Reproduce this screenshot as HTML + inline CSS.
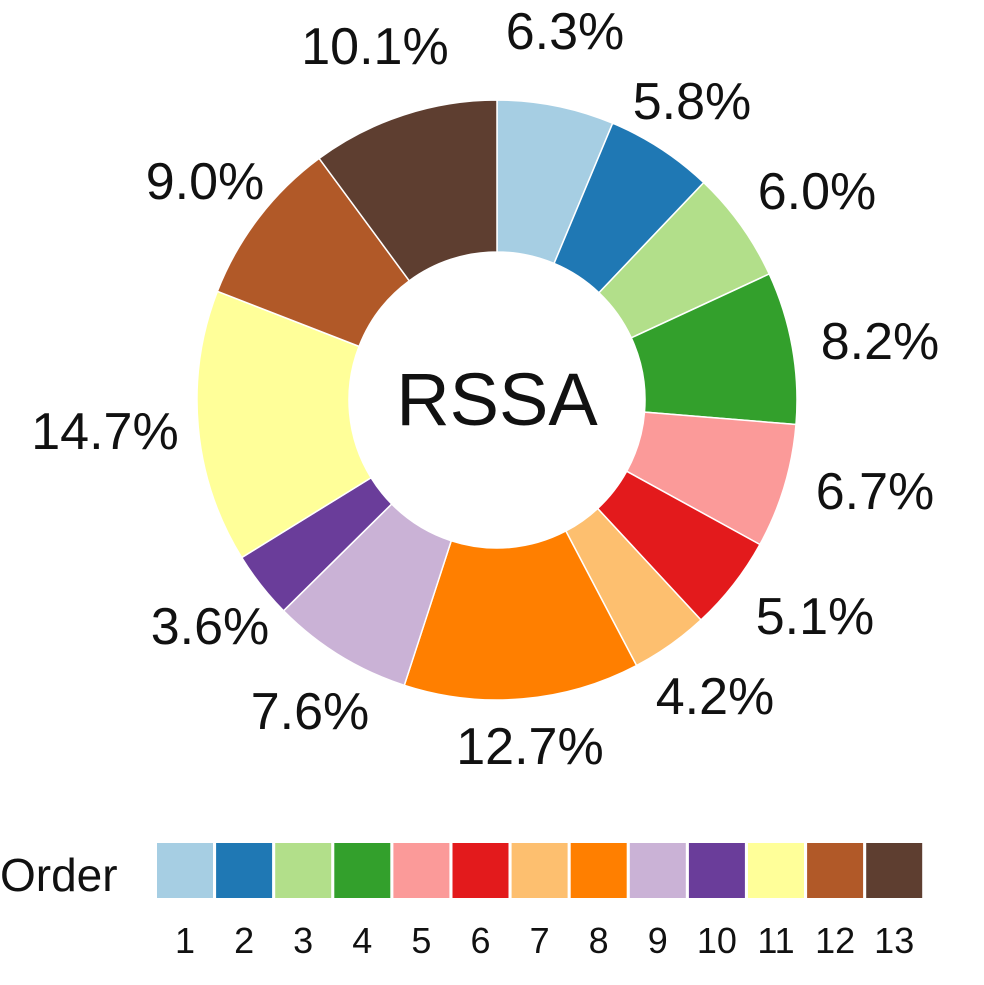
<!DOCTYPE html>
<html><head><meta charset="utf-8"><style>
html,body{margin:0;padding:0;background:#fff;}
svg{display:block;}
text{font-family:"Liberation Sans",Arial,sans-serif;fill:#111;}
</style></head><body>
<svg id="s" width="984" height="985" viewBox="0 0 984 985" xmlns="http://www.w3.org/2000/svg">
<g id="donut"></g>
<text x="497" y="425" font-size="74" text-anchor="middle">RSSA</text>
<g font-size="52" text-anchor="middle">
<text x="375" y="64">10.1%</text>
<text x="565" y="49">6.3%</text>
<text x="692" y="119">5.8%</text>
<text x="817" y="209">6.0%</text>
<text x="880" y="359">8.2%</text>
<text x="875" y="509">6.7%</text>
<text x="815" y="634">5.1%</text>
<text x="715" y="714">4.2%</text>
<text x="530" y="764">12.7%</text>
<text x="310" y="729">7.6%</text>
<text x="210" y="644">3.6%</text>
<text x="105" y="449">14.7%</text>
<text x="205" y="199">9.0%</text>
</g>
<text x="0" y="891" font-size="46">Order</text>
<g id="legend"></g>
</svg>
<script>
var cols=["#a6cee3","#1f78b4","#b2df8a","#33a02c","#fb9a99","#e31a1c","#fdbf6f","#ff7f00","#cab2d6","#6a3d9a","#ffff99","#b15928","#5e3e30"];
var p=[6.3,5.8,6.0,8.2,6.7,5.1,4.2,12.7,7.6,3.6,14.7,9.0,10.1];
var cx=497,cy=400,R=300,r=148,ns="http://www.w3.org/2000/svg";
var g=document.getElementById("donut"),a=0;
function pt(rad,ang){var t=ang/100*2*Math.PI;return [cx+rad*Math.sin(t),cy-rad*Math.cos(t)];}
for(var i=0;i<13;i++){
 var b=a+p[i],lg=p[i]>50?1:0;
 var o1=pt(R,a),o2=pt(R,b),i1=pt(r,b),i2=pt(r,a);
 var d="M"+o1+" A"+R+" "+R+" 0 "+lg+" 1 "+o2+" L"+i1+" A"+r+" "+r+" 0 "+lg+" 0 "+i2+" Z";
 var e=document.createElementNS(ns,"path");e.setAttribute("d",d);e.setAttribute("fill",cols[i]);
 e.setAttribute("stroke","#fff");e.setAttribute("stroke-width","1.5");g.appendChild(e);a=b;}
var L=document.getElementById("legend");
for(var i=0;i<13;i++){
 var x=157+i*59.1;
 var rc=document.createElementNS(ns,"rect");rc.setAttribute("x",x);rc.setAttribute("y",843);
 rc.setAttribute("width",56);rc.setAttribute("height",55);rc.setAttribute("fill",cols[i]);L.appendChild(rc);
 var t=document.createElementNS(ns,"text");t.setAttribute("x",x+28);t.setAttribute("y",953);
 t.setAttribute("font-size","36");t.setAttribute("text-anchor","middle");t.textContent=(i+1);L.appendChild(t);}
</script>
</body></html>
